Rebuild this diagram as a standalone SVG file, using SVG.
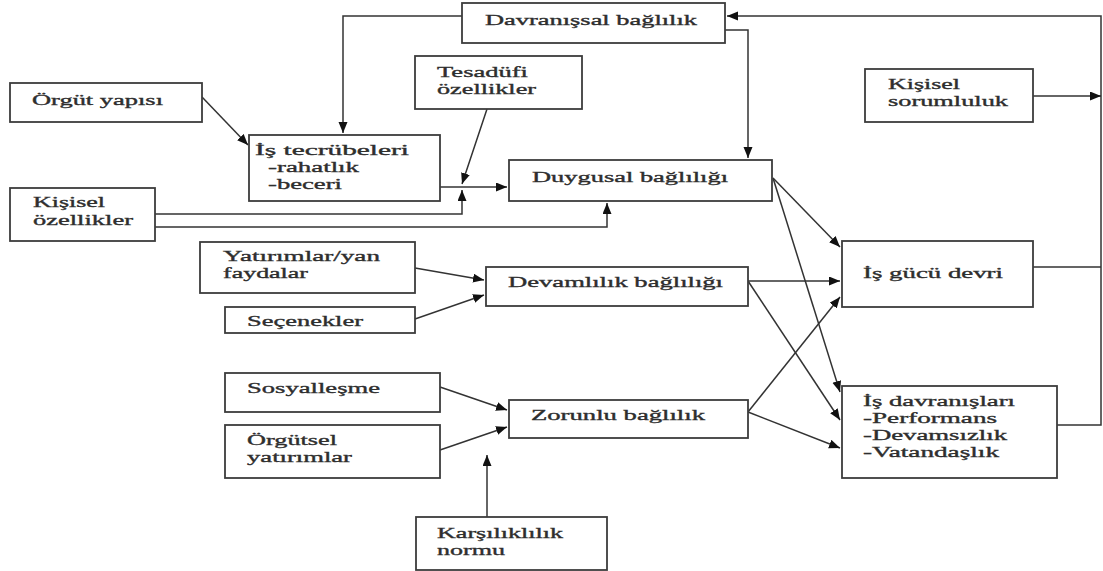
<svg xmlns="http://www.w3.org/2000/svg" width="1103" height="571" viewBox="0 0 1103 571">
<style>
.box{fill:#fff;stroke:#3c3c3c;stroke-width:1.8}
.t{font-family:"Liberation Serif","Times New Roman",serif;font-size:15px;fill:#2e2e2e;stroke:#2e2e2e;stroke-width:0.35}
.c{fill:none;stroke:#333;stroke-width:1.5}
</style>
<defs>
<marker id="ah" markerUnits="userSpaceOnUse" markerWidth="12" markerHeight="10" refX="11" refY="4.5" orient="auto">
<path d="M0,0 L11,4.5 L0,9 z" fill="#111"/>
</marker>
</defs>
<rect width="1103" height="571" fill="#fff"/>
<g id="connectors">
<path class="c" d="M462,16 H343 V133" marker-end="url(#ah)"/>
<path class="c" d="M1033,267 H1101 M1057,425 H1101 V16 H727" marker-end="url(#ah)"/>
<path class="c" d="M1033,96 H1101" marker-end="url(#ah)"/>
<path class="c" d="M725,30 H748 V158" marker-end="url(#ah)"/>
<path class="c" d="M202,97 L248,145" marker-end="url(#ah)"/>
<path class="c" d="M487,109 L462,184" marker-end="url(#ah)"/>
<path class="c" d="M440,187 H507" marker-end="url(#ah)"/>
<path class="c" d="M155,214 H462 V190" marker-end="url(#ah)"/>
<path class="c" d="M155,227 H607 V203" marker-end="url(#ah)"/>
<path class="c" d="M415,268 L484,280" marker-end="url(#ah)"/>
<path class="c" d="M415,319 L484,295" marker-end="url(#ah)"/>
<path class="c" d="M440,387 L507,410" marker-end="url(#ah)"/>
<path class="c" d="M440,450 L507,427" marker-end="url(#ah)"/>
<path class="c" d="M487,517 V455" marker-end="url(#ah)"/>
<path class="c" d="M773,178 L840,247" marker-end="url(#ah)"/>
<path class="c" d="M773,178 L840,392" marker-end="url(#ah)"/>
<path class="c" d="M748,281 H840" marker-end="url(#ah)"/>
<path class="c" d="M748,281 L840,420" marker-end="url(#ah)"/>
<path class="c" d="M748,412 L840,297" marker-end="url(#ah)"/>
<path class="c" d="M748,412 L840,448" marker-end="url(#ah)"/>
</g>
<g id="davranissal">
<rect class="box" x="462" y="3" width="263" height="40"/>
<text class="t" x="485" y="25" textLength="212" lengthAdjust="spacingAndGlyphs">Davranışsal bağlılık</text>
</g>
<g id="orgut-yapisi">
<rect class="box" x="10" y="83" width="192" height="39"/>
<text class="t" x="32" y="105" textLength="131" lengthAdjust="spacingAndGlyphs">Örgüt yapısı</text>
</g>
<g id="tesadufi">
<rect class="box" x="415" y="56" width="167" height="53"/>
<text class="t" x="437" y="77" textLength="91" lengthAdjust="spacingAndGlyphs">Tesadüfi</text>
<text class="t" x="437" y="94" textLength="99" lengthAdjust="spacingAndGlyphs">özellikler</text>
</g>
<g id="is-tecrubeleri">
<rect class="box" x="249" y="135" width="191" height="66"/>
<text class="t" x="255" y="155" textLength="154" lengthAdjust="spacingAndGlyphs">İş tecrübeleri</text>
<text class="t" x="268" y="172" textLength="91" lengthAdjust="spacingAndGlyphs">-rahatlık</text>
<text class="t" x="268" y="189" textLength="74" lengthAdjust="spacingAndGlyphs">-beceri</text>
</g>
<g id="kisisel-ozellikler">
<rect class="box" x="10" y="188" width="145" height="53"/>
<text class="t" x="33" y="207" textLength="72" lengthAdjust="spacingAndGlyphs">Kişisel</text>
<text class="t" x="33" y="225" textLength="100" lengthAdjust="spacingAndGlyphs">özellikler</text>
</g>
<g id="duygusal">
<rect class="box" x="509" y="160" width="263" height="41"/>
<text class="t" x="532" y="182" textLength="196" lengthAdjust="spacingAndGlyphs">Duygusal bağlılığı</text>
</g>
<g id="kisisel-sorumluluk">
<rect class="box" x="865" y="69" width="168" height="53"/>
<text class="t" x="888" y="89" textLength="72" lengthAdjust="spacingAndGlyphs">Kişisel</text>
<text class="t" x="888" y="106" textLength="120" lengthAdjust="spacingAndGlyphs">sorumluluk</text>
</g>
<g id="yatirimlar">
<rect class="box" x="200" y="242" width="215" height="51"/>
<text class="t" x="223" y="261" textLength="157" lengthAdjust="spacingAndGlyphs">Yatırımlar/yan</text>
<text class="t" x="223" y="278" textLength="85" lengthAdjust="spacingAndGlyphs">faydalar</text>
</g>
<g id="secenekler">
<rect class="box" x="225" y="307" width="190" height="26"/>
<text class="t" x="247" y="326" textLength="116" lengthAdjust="spacingAndGlyphs">Seçenekler</text>
</g>
<g id="sosyallesme">
<rect class="box" x="225" y="373" width="215" height="39"/>
<text class="t" x="247" y="393" textLength="133" lengthAdjust="spacingAndGlyphs">Sosyalleşme</text>
</g>
<g id="orgutsel-yatirimlar">
<rect class="box" x="225" y="425" width="215" height="53"/>
<text class="t" x="247" y="445" textLength="90" lengthAdjust="spacingAndGlyphs">Örgütsel</text>
<text class="t" x="247" y="462" textLength="105" lengthAdjust="spacingAndGlyphs">yatırımlar</text>
</g>
<g id="devamlilik">
<rect class="box" x="486" y="267" width="262" height="39"/>
<text class="t" x="508" y="287" textLength="215" lengthAdjust="spacingAndGlyphs">Devamlılık bağlılığı</text>
</g>
<g id="zorunlu">
<rect class="box" x="509" y="400" width="239" height="38"/>
<text class="t" x="531" y="420" textLength="174" lengthAdjust="spacingAndGlyphs">Zorunlu bağlılık</text>
</g>
<g id="karsiliklilik">
<rect class="box" x="416" y="517" width="191" height="53"/>
<text class="t" x="437" y="538" textLength="126" lengthAdjust="spacingAndGlyphs">Karşılıklılık</text>
<text class="t" x="437" y="555" textLength="68" lengthAdjust="spacingAndGlyphs">normu</text>
</g>
<g id="is-gucu-devri">
<rect class="box" x="842" y="241" width="191" height="66"/>
<text class="t" x="863" y="278" textLength="140" lengthAdjust="spacingAndGlyphs">İş gücü devri</text>
</g>
<g id="is-davranislari">
<rect class="box" x="842" y="386" width="215" height="92"/>
<text class="t" x="863" y="406" textLength="152" lengthAdjust="spacingAndGlyphs">İş davranışları</text>
<text class="t" x="863" y="423" textLength="134" lengthAdjust="spacingAndGlyphs">-Performans</text>
<text class="t" x="863" y="440" textLength="144" lengthAdjust="spacingAndGlyphs">-Devamsızlık</text>
<text class="t" x="863" y="457" textLength="136" lengthAdjust="spacingAndGlyphs">-Vatandaşlık</text>
</g>
</svg>
